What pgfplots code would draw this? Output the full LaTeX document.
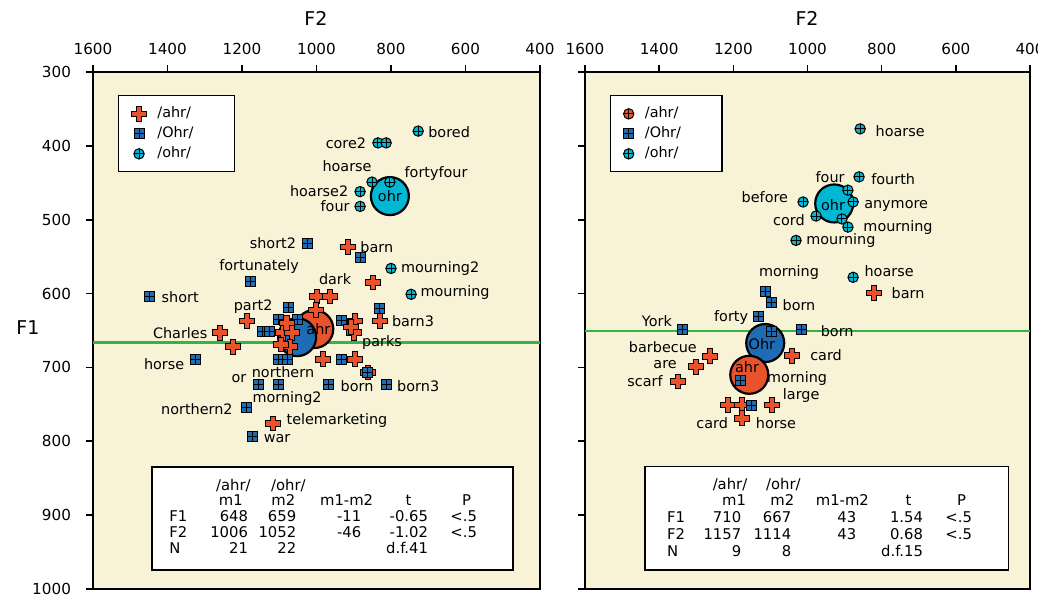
\documentclass[border=0pt]{standalone}
\usepackage{fontspec}
\setmainfont{DejaVu Sans}
\usepackage{pgfplots}
\pgfplotsset{compat=1.18}
\definecolor{redc}{RGB}{234,82,44}
\definecolor{bluec}{RGB}{30,108,180}
\definecolor{cyanc}{RGB}{0,183,212}
\definecolor{bgc}{RGB}{248,243,214}
\definecolor{greenc}{RGB}{50,180,70}
\newcommand\lab{\fontsize{7.2}{8}\selectfont}
\newcommand\tabf{\fontsize{7.4}{8}\selectfont}
\newcommand\legtxt[1]{\makebox[31pt][l]{#1}}
\pgfdeclareplotmark{fatplus}{%
 \pgfpathmoveto{\pgfqpoint{-1.4pt}{3.7pt}}%
 \pgfpathlineto{\pgfqpoint{1.4pt}{3.7pt}}%
 \pgfpathlineto{\pgfqpoint{1.4pt}{1.4pt}}%
 \pgfpathlineto{\pgfqpoint{3.7pt}{1.4pt}}%
 \pgfpathlineto{\pgfqpoint{3.7pt}{-1.4pt}}%
 \pgfpathlineto{\pgfqpoint{1.4pt}{-1.4pt}}%
 \pgfpathlineto{\pgfqpoint{1.4pt}{-3.7pt}}%
 \pgfpathlineto{\pgfqpoint{-1.4pt}{-3.7pt}}%
 \pgfpathlineto{\pgfqpoint{-1.4pt}{-1.4pt}}%
 \pgfpathlineto{\pgfqpoint{-3.7pt}{-1.4pt}}%
 \pgfpathlineto{\pgfqpoint{-3.7pt}{1.4pt}}%
 \pgfpathlineto{\pgfqpoint{-1.4pt}{1.4pt}}%
 \pgfpathclose
 \pgfusepathqfillstroke}
\pgfdeclareplotmark{gridsq}{%
 \pgfpathrectangle{\pgfqpoint{-2.5pt}{-2.5pt}}{\pgfqpoint{5pt}{5pt}}%
 \pgfusepathqfillstroke
 \pgfpathmoveto{\pgfqpoint{0pt}{-2.5pt}}\pgfpathlineto{\pgfqpoint{0pt}{2.5pt}}%
 \pgfpathmoveto{\pgfqpoint{-2.5pt}{0pt}}\pgfpathlineto{\pgfqpoint{2.5pt}{0pt}}%
 \pgfusepathqstroke}
\pgfdeclareplotmark{circplus}{%
 \pgfpathcircle{\pgfpointorigin}{2.6pt}%
 \pgfusepathqfillstroke
 \pgfpathmoveto{\pgfqpoint{0pt}{-2.6pt}}\pgfpathlineto{\pgfqpoint{0pt}{2.6pt}}%
 \pgfpathmoveto{\pgfqpoint{-2.6pt}{0pt}}\pgfpathlineto{\pgfqpoint{2.6pt}{0pt}}%
 \pgfusepathqstroke}
\pgfplotsset{
 ahrp/.style={only marks, mark=fatplus, mark options={fill=redc, draw=black, line width=0.5pt}},
 ohrsq/.style={only marks, mark=gridsq, mark options={fill=bluec, draw=black, line width=0.5pt}},
 ohrc/.style={only marks, mark=circplus, mark options={fill=cyanc, draw=black, line width=0.5pt}},
 ahrc/.style={only marks, mark=circplus, mark options={fill=redc, draw=black, line width=0.5pt}},
 bigc/.style={only marks, mark=*, mark size=9.5pt, mark options={fill=#1, draw=black, line width=1.1pt}},
 panel/.style={
  set layers=standard,
  scale only axis, height=258.5pt,
  x dir=reverse, y dir=reverse,
  xmin=400, xmax=1600, ymin=300, ymax=1000,
  xtick={400,600,...,1600}, ytick={300,400,...,1000},
  xtick pos=right, xticklabel pos=right, ytick pos=left, yticklabel pos=left,
  tick align=outside, major tick length=3.5pt,
  major tick style={black, line width=0.8pt},
  axis line style={line width=1.3pt},
  axis background/.style={fill=bgc},
  tick label style={font=\fontsize{7.6}{8}\selectfont},
  xticklabel style={yshift=1.75pt},
  yticklabel style={xshift=-4pt},
  /pgf/number format/assume math mode=true,
  /pgf/number format/1000 sep={},
  legend style={at={(axis description cs:0.056,0.955)}, anchor=north west,
    draw=black, line width=0.6pt, fill=white, font=\lab,
    inner xsep=6.5pt, inner ysep=4.5pt, row sep=1pt,
    nodes={inner sep=1pt, text height=5.5pt, text depth=1.5pt},
    /tikz/every odd column/.append style={column sep=4.5pt}},
  legend cell align=left,
  legend image code/.code={\draw[##1,mark repeat=2,mark phase=2] plot coordinates {(0pt,0pt)(5pt,0pt)(10pt,0pt)};},
 }
}
\begin{document}
\begin{tikzpicture}
% ===== LEFT PANEL =====
\begin{axis}[panel, width=223.5pt, at={(0pt,0pt)}, anchor=south west]
\addlegendimage{ahrp}
\addlegendimage{ohrsq}
\addlegendimage{ohrc}
\legend{\legtxt{/ahr/},\legtxt{/Ohr/},\legtxt{/ohr/}}
\addplot[draw=greenc, line width=1.2pt, forget plot] coordinates {(400,666) (1600,666)};
\addplot[bigc=redc, forget plot] coordinates {(1006,648)};
\addplot[bigc=bluec, forget plot] coordinates {(1052,659)};
\addplot[bigc=cyanc, forget plot] coordinates {(803,468)};
\addplot[ohrsq, forget plot] coordinates {
(1447,604)(1023,532)(1176,584)(883,551)(832,620)(932,637)(1074,619)(1103,635)(1052,635)(1144,651)(1125,651)
(1103,689)(1079,689)(1326,689)(1157,723)(1103,723)(969,723)(813,723)(934,689)(1189,754)(1173,793)};
\addplot[ahrp, forget plot] coordinates {
(1259,653)(1224,672)(1187,637)(915,537)(848,585)(999,604)(964,604)(1001,622)(897,637)(899,653)(907,645)
(830,637)(1090,653)(1066,653)(1071,672)(1095,669)(983,689)(897,689)(862,707)(1117,776)(1080,640)};
\addplot[ohrsq, forget plot] coordinates {(862,707)};
\addplot[ohrc, forget plot] coordinates {
(727,380)(835,396)(813,396)(851,449)(803,449)(883,462)(883,482)(800,566)(746,601)};
\begin{pgfonlayer}{axis foreground}
\node[font=\lab] at (axis cs:995,648) {ahr};
\node[font=\lab] at (axis cs:803,468) {ohr};
\node[font=\lab] at (axis cs:1366,605) {short};
\node[font=\lab] at (axis cs:1117,532) {short2};
\node[font=\lab] at (axis cs:1154,563) {fortunately};
\node[font=\lab] at (axis cs:1170,618) {part2};
\node[font=\lab] at (axis cs:1366,653) {Charles};
\node[font=\lab] at (axis cs:1409,696) {horse};
\node[font=\lab] at (axis cs:1208,715) {or};
\node[font=\lab] at (axis cs:1090,707) {northern};
\node[font=\lab] at (axis cs:1079,742) {morning2};
\node[font=\lab] at (axis cs:1321,757) {northern2};
\node[font=\lab] at (axis cs:945,772) {telemarketing};
\node[font=\lab] at (axis cs:1106,796) {war};
\node[font=\lab] at (axis cs:921,396) {core2};
\node[font=\lab] at (axis cs:644,382) {bored};
\node[font=\lab] at (axis cs:918,427) {hoarse};
\node[font=\lab] at (axis cs:679,437) {fortyfour};
\node[font=\lab] at (axis cs:993,461) {hoarse2};
\node[font=\lab] at (axis cs:950,482) {four};
\node[font=\lab] at (axis cs:838,537) {barn};
\node[font=\lab] at (axis cs:950,581) {dark};
\node[font=\lab] at (axis cs:668,566) {mourning2};
\node[font=\lab] at (axis cs:628,599) {mourning};
\node[font=\lab] at (axis cs:741,637) {barn3};
\node[font=\lab] at (axis cs:824,666) {parks};
\node[font=\lab] at (axis cs:891,726) {born};
\node[font=\lab] at (axis cs:727,726) {born3};
\end{pgfonlayer}
\end{axis}
% ===== RIGHT PANEL =====
\begin{axis}[panel, width=222.5pt, at={(246pt,0pt)}, anchor=south west, yticklabels={}]
\addlegendimage{ahrc}
\addlegendimage{ohrsq}
\addlegendimage{ohrc}
\legend{\legtxt{/ahr/},\legtxt{/Ohr/},\legtxt{/ohr/}}
\addplot[draw=greenc, line width=1.2pt, forget plot] coordinates {(400,651) (1600,651)};
\addplot[bigc=cyanc, forget plot] coordinates {(928,478)};
\addplot[bigc=bluec, forget plot] coordinates {(1114,667)};
\addplot[bigc=redc, forget plot] coordinates {(1157,710)};
\addplot[ahrp, forget plot] coordinates {
(821,599)(1042,684)(1263,685)(1301,699)(1349,719)(1214,751)(1177,751)(1096,751)(1177,769)};
\addplot[ohrsq, forget plot] coordinates {
(1112,597)(1098,612)(1131,631)(1098,651)(1015,649)(1336,649)(1182,718)(1150,751)};
\addplot[ohrc, forget plot] coordinates {
(858,377)(861,442)(891,460)(1012,476)(877,476)(977,495)(907,499)(891,510)(1031,528)(877,578)};
\begin{pgfonlayer}{axis foreground}
\node[font=\lab] at (axis cs:1163,700) {ahr};
\node[font=\lab] at (axis cs:1123,669) {Ohr};
\node[font=\lab] at (axis cs:931,480) {ohr};
\node[font=\lab] at (axis cs:750,380) {hoarse};
\node[font=\lab] at (axis cs:939,442) {four};
\node[font=\lab] at (axis cs:769,445) {fourth};
\node[font=\lab] at (axis cs:1115,469) {before};
\node[font=\lab] at (axis cs:761,481) {anymore};
\node[font=\lab] at (axis cs:1050,500) {cord};
\node[font=\lab] at (axis cs:756,511) {mourning};
\node[font=\lab] at (axis cs:910,528) {mourning};
\node[font=\lab] at (axis cs:1050,572) {morning};
\node[font=\lab] at (axis cs:780,570) {hoarse};
\node[font=\lab] at (axis cs:729,599) {barn};
\node[font=\lab] at (axis cs:1023,616) {born};
\node[font=\lab] at (axis cs:1206,632) {forty};
\node[font=\lab] at (axis cs:1406,637) {York};
\node[font=\lab] at (axis cs:920,651) {born};
\node[font=\lab] at (axis cs:1390,672) {barbecue};
\node[font=\lab] at (axis cs:950,684) {card};
\node[font=\lab] at (axis cs:1384,696) {are};
\node[font=\lab] at (axis cs:1028,715) {morning};
\node[font=\lab] at (axis cs:1438,719) {scarf};
\node[font=\lab] at (axis cs:1017,738) {large};
\node[font=\lab] at (axis cs:1257,776) {card};
\node[font=\lab] at (axis cs:1085,776) {horse};
\end{pgfonlayer}
\end{axis}
% ===== titles =====
\node[font=\fontsize{9.5}{11}\selectfont] at (111.5pt,285.5pt) {F2};
\node[font=\fontsize{9.5}{11}\selectfont] at (357pt,285.5pt) {F2};
\node[font=\fontsize{9.5}{11}\selectfont] at (-32.5pt,130.5pt) {F1};
% ===== left table =====
\begin{scope}[every node/.style={font=\tabf, inner sep=0pt, text height=5.4pt, text depth=1.4pt}]
\draw[line width=0.6pt, fill=white] (29.5pt,9.5pt) rectangle (210pt,61pt);
\node at (70.2pt,51.2pt) {/ahr/};
\node at (97.7pt,51.2pt) {/ohr/};
\node at (68.9pt,43.7pt) {m1};
\node at (95.2pt,43.7pt) {m2};
\node at (126.8pt,43.7pt) {m1-m2};
\node at (157.7pt,43.7pt) {t};
\node at (186.8pt,43.7pt) {P};
\node[anchor=west] at (38pt,35.7pt) {F1};
\node[anchor=west] at (38pt,27.5pt) {F2};
\node[anchor=west] at (38pt,19.9pt) {N};
\node[anchor=east] at (77.7pt,35.7pt) {648};
\node[anchor=east] at (101.8pt,35.7pt) {659};
\node[anchor=east] at (134.3pt,35.7pt) {-11};
\node[anchor=east] at (167.7pt,35.7pt) {-0.65};
\node[anchor=west] at (178.5pt,35.7pt) {<.5};
\node[anchor=east] at (77.7pt,27.5pt) {1006};
\node[anchor=east] at (101.8pt,27.5pt) {1052};
\node[anchor=east] at (134.3pt,27.5pt) {-46};
\node[anchor=east] at (167.7pt,27.5pt) {-1.02};
\node[anchor=west] at (178.5pt,27.5pt) {<.5};
\node[anchor=east] at (77.7pt,19.9pt) {21};
\node[anchor=east] at (101.8pt,19.9pt) {22};
\node[anchor=east] at (167.7pt,19.9pt) {d.f.41};
\end{scope}
% ===== right table =====
\begin{scope}[xshift=246pt, every node/.style={font=\tabf, inner sep=0pt, text height=5.4pt, text depth=1.4pt}]
\draw[line width=0.6pt, fill=white] (30pt,9.5pt) rectangle (211.7pt,61.2pt);
\node at (72.5pt,51.5pt) {/ahr/};
\node at (99.2pt,51.5pt) {/ohr/};
\node at (74.5pt,43.7pt) {m1};
\node at (98.7pt,43.7pt) {m2};
\node at (128.7pt,43.7pt) {m1-m2};
\node at (161.7pt,43.7pt) {t};
\node at (188.3pt,43.7pt) {P};
\node[anchor=west] at (40.8pt,35.2pt) {F1};
\node[anchor=west] at (40.8pt,26.6pt) {F2};
\node[anchor=west] at (40.8pt,18.4pt) {N};
\node[anchor=east] at (78.3pt,35.2pt) {710};
\node[anchor=east] at (103.3pt,35.2pt) {667};
\node[anchor=east] at (135.8pt,35.2pt) {43};
\node[anchor=east] at (169.2pt,35.2pt) {1.54};
\node[anchor=west] at (180pt,35.2pt) {<.5};
\node[anchor=east] at (78.3pt,26.6pt) {1157};
\node[anchor=east] at (103.3pt,26.6pt) {1114};
\node[anchor=east] at (135.8pt,26.6pt) {43};
\node[anchor=east] at (169.2pt,26.6pt) {0.68};
\node[anchor=west] at (180pt,26.6pt) {<.5};
\node[anchor=east] at (78.3pt,18.4pt) {9};
\node[anchor=east] at (103.3pt,18.4pt) {8};
\node[anchor=east] at (169.2pt,18.4pt) {d.f.15};
\end{scope}
\pgfresetboundingbox
\useasboundingbox (-46.5pt,-4pt) rectangle (472.5pt,294.5pt);
\end{tikzpicture}
\end{document}
